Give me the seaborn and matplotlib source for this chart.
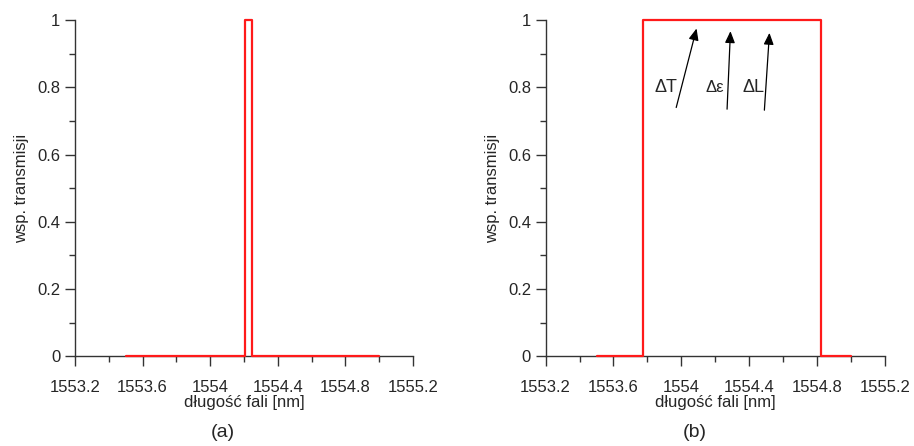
"""Transmission spectra of two filters: narrow (a) and wide (b)."""
import matplotlib
matplotlib.use("Agg")
import matplotlib.pyplot as plt
from matplotlib.ticker import MultipleLocator, FuncFormatter
import pandas as pd
import seaborn as sns

# (a) narrow peak, step vertices
wl_a = [1553.5, 1554.205, 1554.205, 1554.25, 1554.25, 1555.0]
tr_a = [0, 0, 1, 1, 0, 0]

# (b) wide band, step vertices
wl_b = [1553.5, 1553.775, 1553.775, 1554.825, 1554.825, 1555.0]
tr_b = [0, 0, 1, 1, 0, 0]

# arrows in panel (b): label, label right edge x, tail (x, y), tip (x, y)
arrow_labels = ["ΔT", "Δε", "ΔL"]
label_x = [1553.975, 1554.255, 1554.49]
arrow_tail = [(1553.97, 0.74), (1554.27, 0.735), (1554.49, 0.732)]
arrow_tip = [(1554.09, 0.975), (1554.29, 0.967), (1554.52, 0.962)]

x_label = "długość fali [nm]"
y_label = "wsp. transmisji"
captions = ["(a)", "(b)"]

sns.set_style("ticks")
plt.rcParams["font.family"] = ["Liberation Sans", "DejaVu Sans"]

fig = plt.figure(figsize=(9.14, 4.46), dpi=100)
ax_a = fig.add_axes([0.082, 0.201, 0.370, 0.754])
ax_b = fig.add_axes([0.597, 0.201, 0.371, 0.754])


def fmt(v, pos):
    s = f"{v:.1f}"
    return s[:-2] if s.endswith(".0") else s


for ax, wl, tr in [(ax_a, wl_a, tr_a), (ax_b, wl_b, tr_b)]:
    df = pd.DataFrame({"wl": wl, "tr": tr})
    sns.lineplot(data=df, x="wl", y="tr", sort=False, estimator=None,
                 color="#ff1a1a", linewidth=1.6, ax=ax, clip_on=False, zorder=3)
    ax.set_xlim(1553.2, 1555.2)
    ax.set_ylim(0, 1)
    ax.xaxis.set_major_locator(MultipleLocator(0.4))
    ax.xaxis.set_minor_locator(MultipleLocator(0.2))
    ax.yaxis.set_major_locator(MultipleLocator(0.2))
    ax.yaxis.set_minor_locator(MultipleLocator(0.1))
    ax.xaxis.set_major_formatter(FuncFormatter(fmt))
    ax.yaxis.set_major_formatter(FuncFormatter(fmt))
    ax.tick_params(which="major", length=7, width=1, labelsize=12, color="#333333")
    ax.tick_params(which="minor", length=4, width=1, color="#333333")
    ax.tick_params(axis="x", pad=10)
    ax.set_xlabel(x_label, fontsize=12, labelpad=0)
    ax.set_ylabel(y_label, fontsize=12, labelpad=6)
    sns.despine(ax=ax)
    for sp in ("left", "bottom"):
        ax.spines[sp].set_color("#333333")
        ax.spines[sp].set_linewidth(1)
        ax.spines[sp].set_zorder(0)

for lab, lx, tail, tip in zip(arrow_labels, label_x, arrow_tail, arrow_tip):
    ax_b.annotate("", xy=tip, xytext=tail,
                  arrowprops=dict(arrowstyle="-|>,head_length=0.7,head_width=0.3",
                                  color="black", lw=0.9, shrinkA=0, shrinkB=0))
    ax_b.text(lx, 0.80, lab, ha="right", va="center",
              fontsize=13 if lab != "Δε" else 12)

fig.text(0.244, 0.03, captions[0], ha="center", va="center", fontsize=14)
fig.text(0.760, 0.03, captions[1], ha="center", va="center", fontsize=14)

fig.savefig("out.png", dpi=100)
